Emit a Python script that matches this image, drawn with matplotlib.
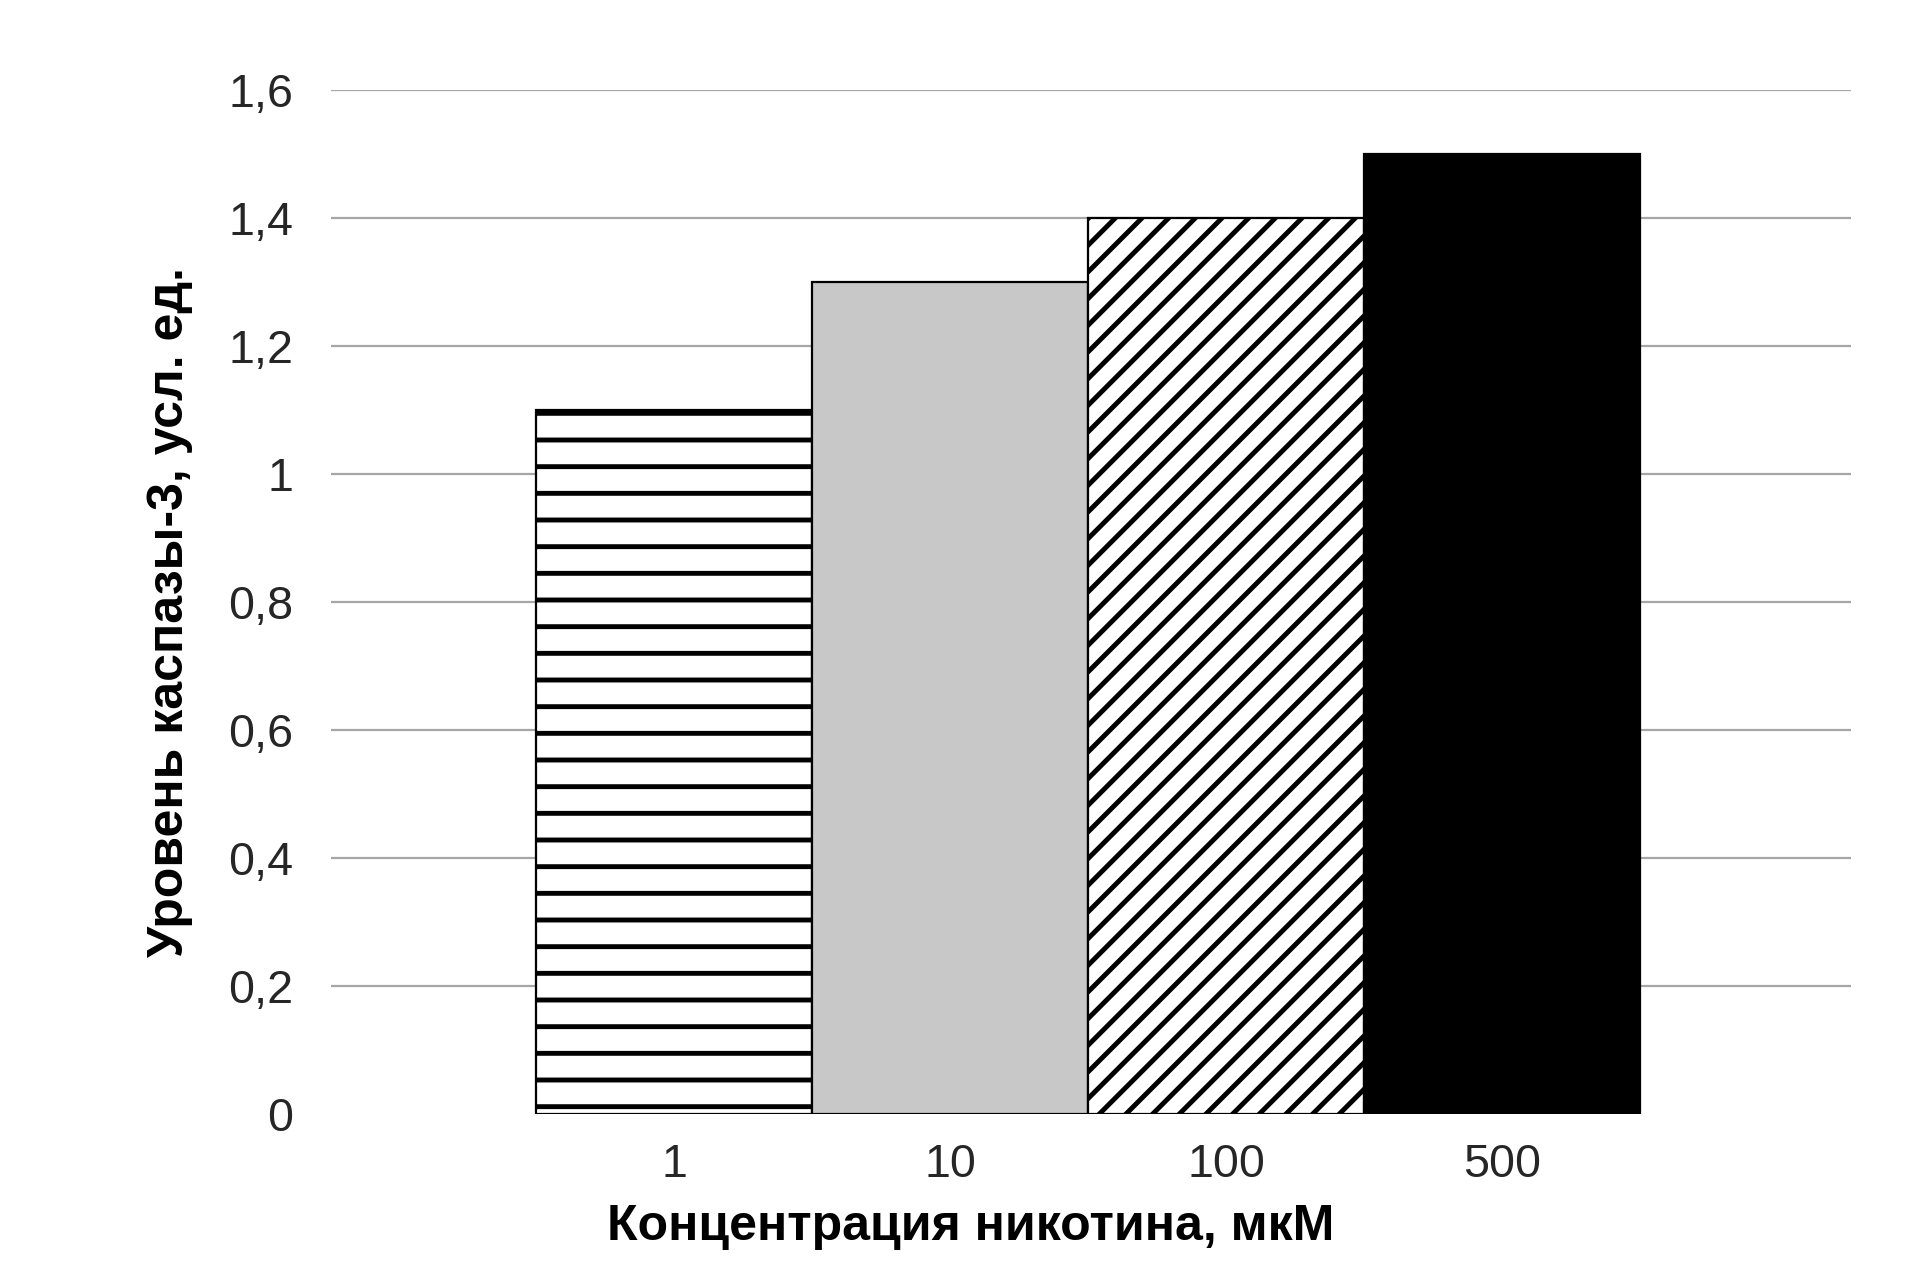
import matplotlib
matplotlib.use('Agg')
import matplotlib.pyplot as plt

# данные
categories = ['1', '10', '100', '500']
values = [1.1, 1.3, 1.4, 1.5]
yticks = [0, 0.2, 0.4, 0.6, 0.8, 1.0, 1.2, 1.4, 1.6]
ytick_labels = ['0', '0,2', '0,4', '0,6', '0,8', '1', '1,2', '1,4', '1,6']

plt.rcParams['font.family'] = ['Liberation Sans', 'DejaVu Sans']
plt.rcParams['hatch.linewidth'] = 2.2

fig = plt.figure(figsize=(1910 / 160, 1288 / 160), dpi=160)
ax = fig.add_axes([331 / 1910, 1 - 1114 / 1288, 1520 / 1910, 1024 / 1288])

faces = ['white', '#c8c8c8', 'white', 'black']
hatches = ['-', '', '//', '']
x = list(range(len(categories)))
for i in x:
    ax.bar(i, values[i], width=1.0, color=faces[i], edgecolor='black',
           hatch=hatches[i], linewidth=1.0, zorder=3)

ax.set_xlim(-1.243, 4.264)
ax.set_ylim(0, 1.6)
ax.set_yticks(yticks)
ax.set_yticklabels(ytick_labels)
ax.set_xticks(x)
ax.set_xticklabels(categories)
ax.tick_params(axis='both', length=0, labelsize=21, colors='#262626')
ax.tick_params(axis='y', pad=17)
ax.tick_params(axis='x', pad=13)

ax.yaxis.grid(True, color='#a6a6a6', linewidth=1.0, zorder=0)
ax.get_ygridlines()[0].set_visible(False)
ax.set_axisbelow(True)
for s in ax.spines.values():
    s.set_visible(False)

ax.set_xlabel('Концентрация никотина, мкМ', fontsize=22.5, fontweight='bold')
ax.xaxis.set_label_coords(0.421, -0.088)
ax.set_ylabel('Уровень каспазы-3, усл. ед.', fontsize=22.5, fontweight='bold')
ax.yaxis.set_label_coords(-0.091, 0.49)

fig.savefig('out.png', dpi=160)
